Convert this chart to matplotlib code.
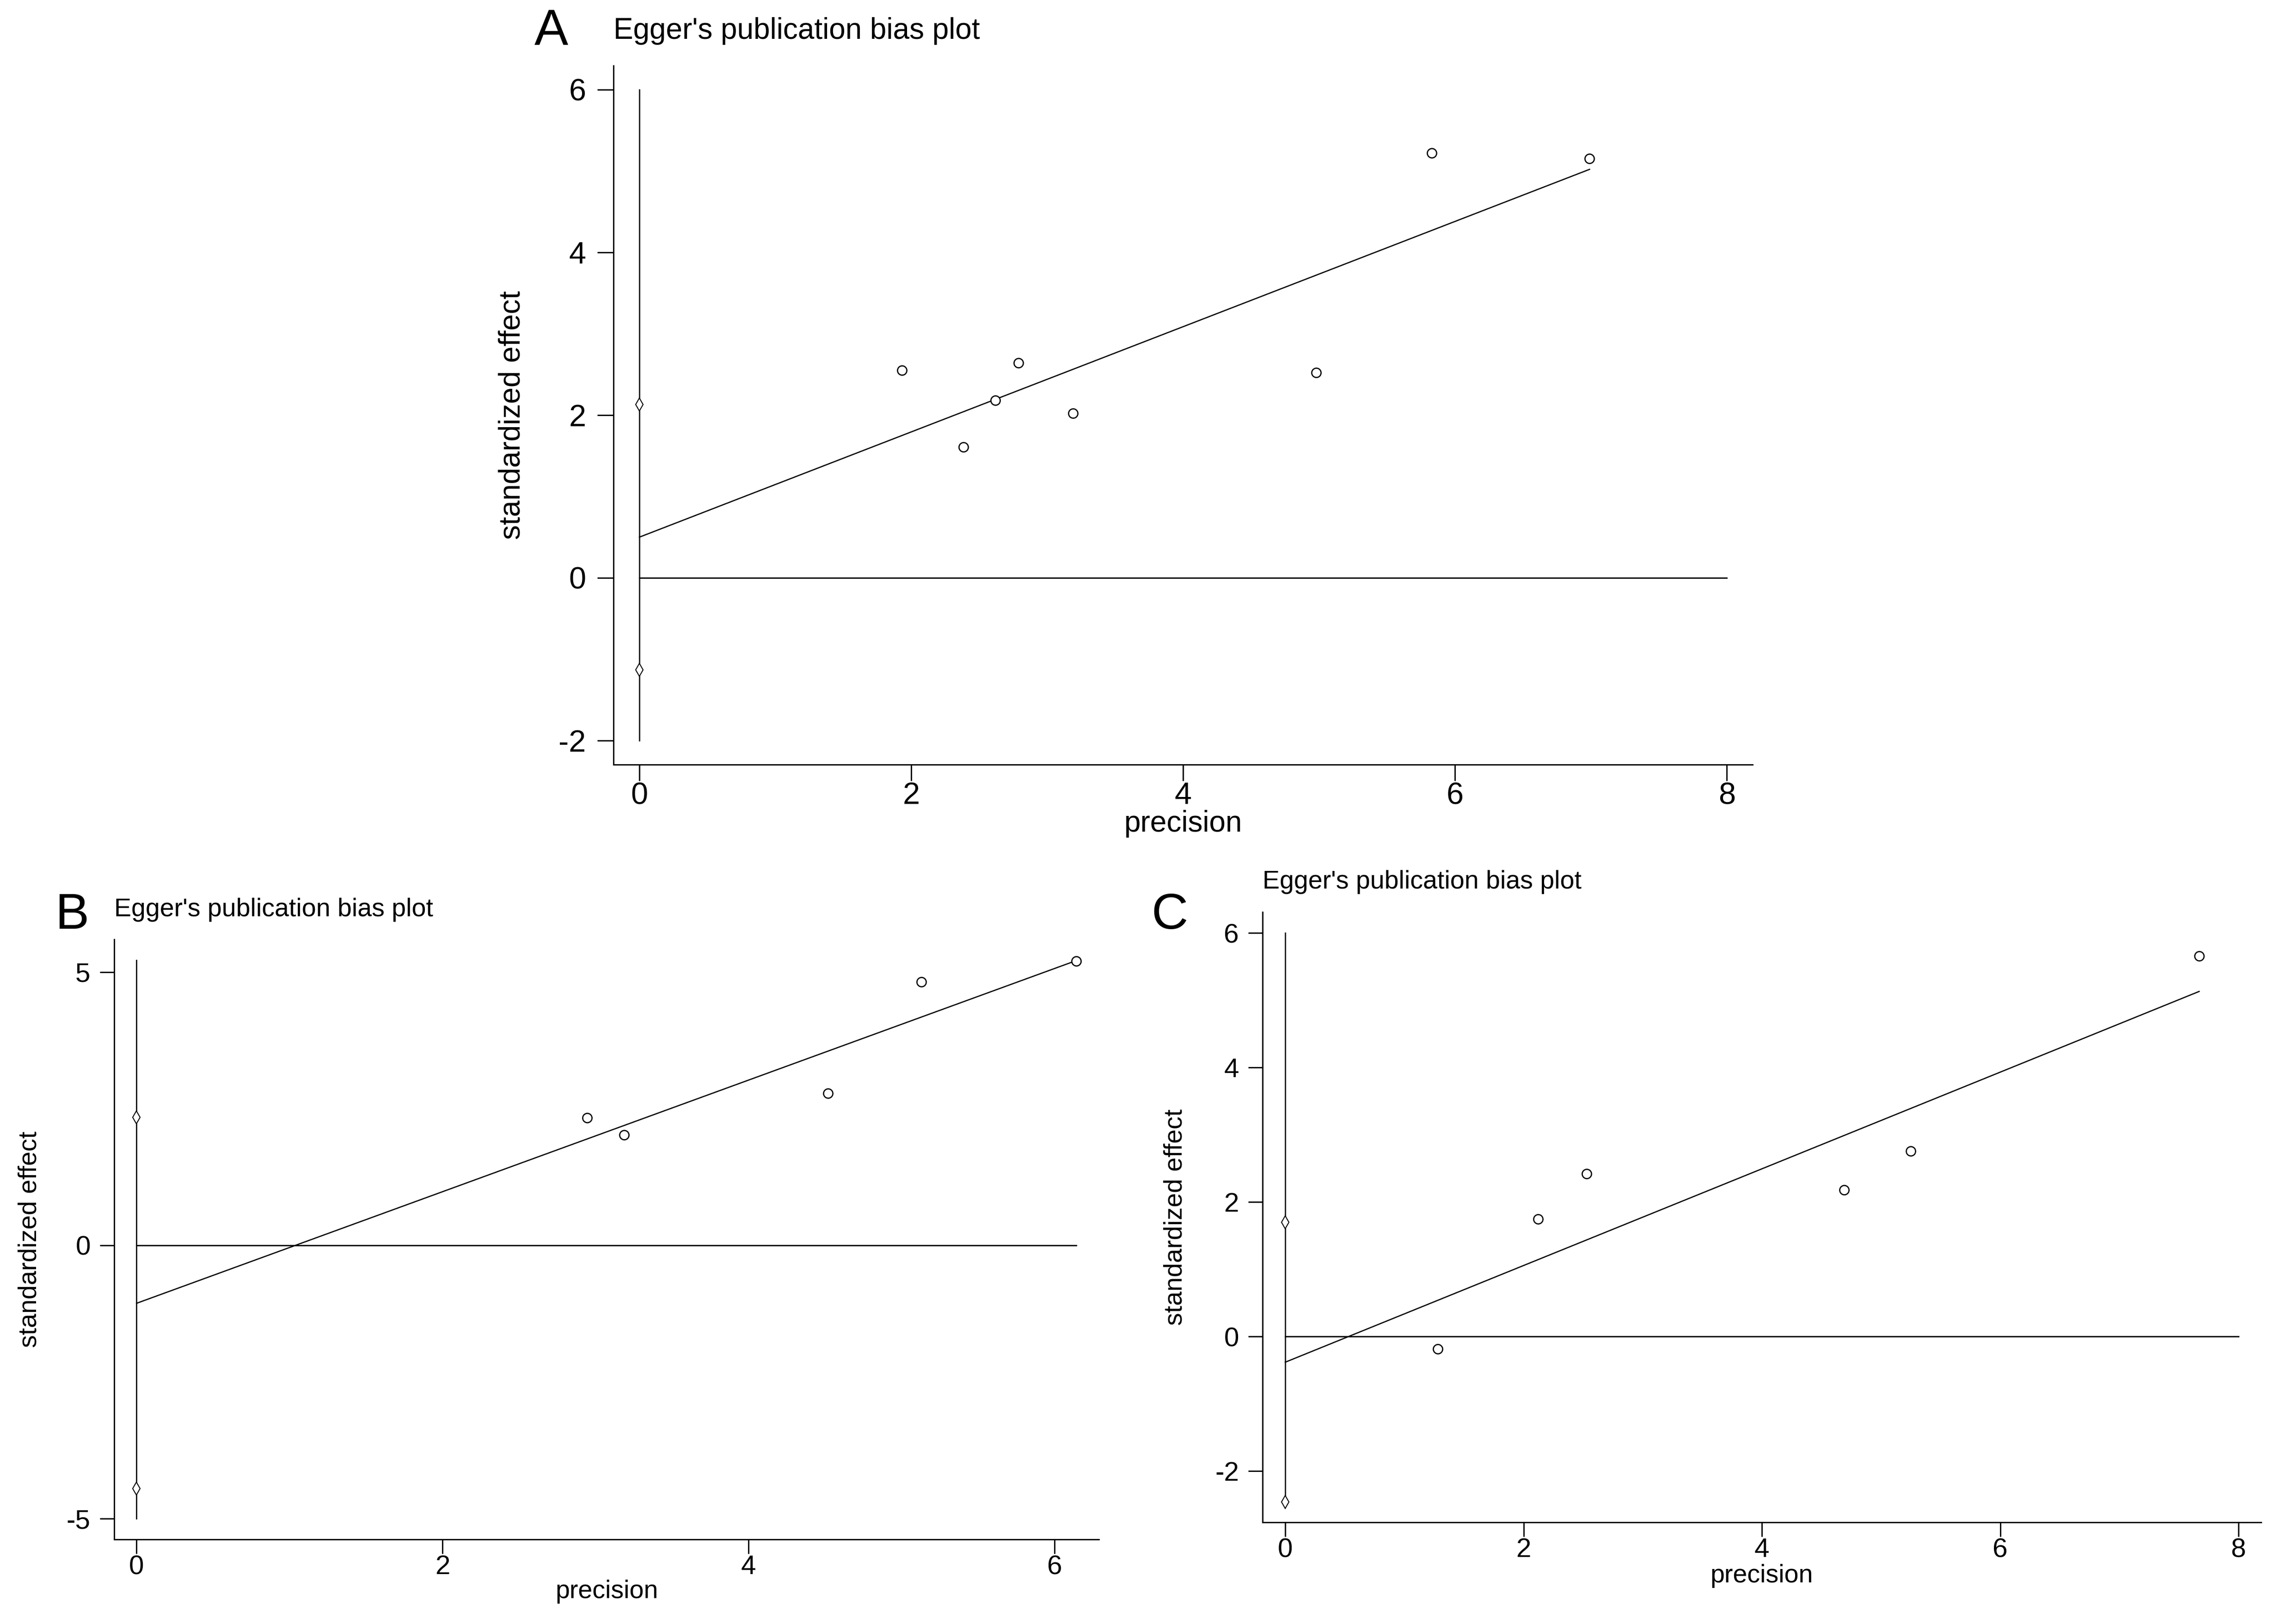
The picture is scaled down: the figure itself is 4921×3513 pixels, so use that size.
import matplotlib
matplotlib.use("Agg")
import matplotlib.pyplot as plt

plt.rcParams['font.family'] = ['Liberation Sans', 'DejaVu Sans']
plt.rcParams['axes.unicode_minus'] = False

# ---------------- data ----------------
title_text = "Egger's publication bias plot"
xlabel_text = "precision"
ylabel_text = "standardized effect"

# Panel A
A_prec = [1.93, 2.385, 2.62, 2.79, 3.19, 4.98, 5.83, 6.99]
A_eff = [2.55, 1.61, 2.18, 2.64, 2.02, 2.52, 5.22, 5.15]
A_ci = [-1.13, 2.13]
A_fit_x = [0, 6.99]
A_fit_y = [0.50, 5.02]
A_vline = [-2, 6]
A_hline = [0, 8]
A_xticks = [0, 2, 4, 6, 8]
A_yticks = [-2, 0, 2, 4, 6]

# Panel B
B_prec = [2.946, 3.187, 4.52, 5.13, 6.14]
B_eff = [2.33, 2.02, 2.78, 4.82, 5.20]
B_ci = [-4.45, 2.34]
B_fit_x = [0, 6.14]
B_fit_y = [-1.06, 5.21]
B_vline = [-5, 5.22]
B_hline = [0, 6.14]
B_xticks = [0, 2, 4, 6]
B_yticks = [-5, 0, 5]

# Panel C
C_prec = [1.28, 2.12, 2.53, 4.69, 5.25, 7.67]
C_eff = [-0.18, 1.75, 2.42, 2.18, 2.76, 5.66]
C_ci = [-2.46, 1.70]
C_fit_x = [0, 7.67]
C_fit_y = [-0.38, 5.13]
C_vline = [-2.46, 6]
C_hline = [0, 8]
C_xticks = [0, 2, 4, 6, 8]
C_yticks = [-2, 0, 2, 4, 6]

# ---------------- figure ----------------
fig = plt.figure(figsize=(49.21, 35.13), dpi=100)
fig.patch.set_facecolor('white')

LW = 2.1


def panel(rect, prec, eff, ci, fit_x, fit_y, vline, hline, xticks, yticks,
          xlim, ylim, fs, tfs, ticklen, ypad, ylab_x, xlab_y, title_y):
    ax = fig.add_axes(rect)
    ax.set_xlim(*xlim)
    ax.set_ylim(*ylim)
    for s in ['top', 'right']:
        ax.spines[s].set_visible(False)
    for s in ['left', 'bottom']:
        ax.spines[s].set_linewidth(LW)
    ax.plot([0, 0], vline, color='black', lw=LW * 0.9)
    ax.plot(hline, [0, 0], color='black', lw=LW)
    ax.plot(fit_x, fit_y, color='black', lw=LW * 0.9)
    ax.plot(prec, eff, linestyle='none', marker='o', markersize=14.5,
            markerfacecolor='white', markeredgecolor='black', markeredgewidth=1.9)
    ax.plot([0] * len(ci), ci, linestyle='none', marker='d', markersize=14,
            markerfacecolor='white', markeredgecolor='black', markeredgewidth=1.5)
    ax.set_xticks(xticks)
    ax.set_yticks(yticks)
    ax.tick_params(axis='both', direction='out', length=ticklen, width=LW,
                   labelsize=tfs, color='black')
    ax.tick_params(axis='y', pad=ypad)
    ax.tick_params(axis='x', pad=2)
    ax.set_xlabel(xlabel_text, fontsize=fs, va='center')
    ax.xaxis.set_label_coords(0.5, xlab_y)
    ax.set_ylabel(ylabel_text, fontsize=fs, va='center')
    ax.yaxis.set_label_coords(ylab_x, 0.5)
    ax.set_title(title_text, loc='left', fontsize=fs, y=title_y, va='center')
    return ax


panel([0.2697, 0.5292, 0.7704 - 0.2697, 0.9596 - 0.5292],
      A_prec, A_eff, A_ci, A_fit_x, A_fit_y, A_vline, A_hline, A_xticks, A_yticks,
      (-0.19, 8.19), (-2.295, 6.295), fs=46, tfs=48, ticklen=25, ypad=18,
      ylab_x=-0.089, xlab_y=-0.085, title_y=1.044)

panel([0.0502, 0.0521, 0.4831 - 0.0502, 0.4216 - 0.0521],
      B_prec, B_eff, B_ci, B_fit_x, B_fit_y, B_vline, B_hline, B_xticks, B_yticks,
      (-0.146, 6.29), (-5.38, 5.60), fs=40, tfs=42, ticklen=22, ypad=15,
      ylab_x=-0.0855, xlab_y=-0.087, title_y=1.043)

panel([0.555, 0.0626, 0.9939 - 0.555, 0.4384 - 0.0626],
      C_prec, C_eff, C_ci, C_fit_x, C_fit_y, C_vline, C_hline, C_xticks, C_yticks,
      (-0.19, 8.19), (-2.76, 6.31), fs=40, tfs=42, ticklen=22, ypad=15,
      ylab_x=-0.0872, xlab_y=-0.088, title_y=1.043)

fig.text(380 / 1568, 1 - 22 / 1119, 'A', fontsize=79, ha='center', va='center')
fig.text(50 / 1568, 1 - 631 / 1119, 'B', fontsize=79, ha='center', va='center')
fig.text(806 / 1568, 1 - 631 / 1119, 'C', fontsize=79, ha='center', va='center')

fig.savefig('out.png', dpi=100, facecolor='white')
